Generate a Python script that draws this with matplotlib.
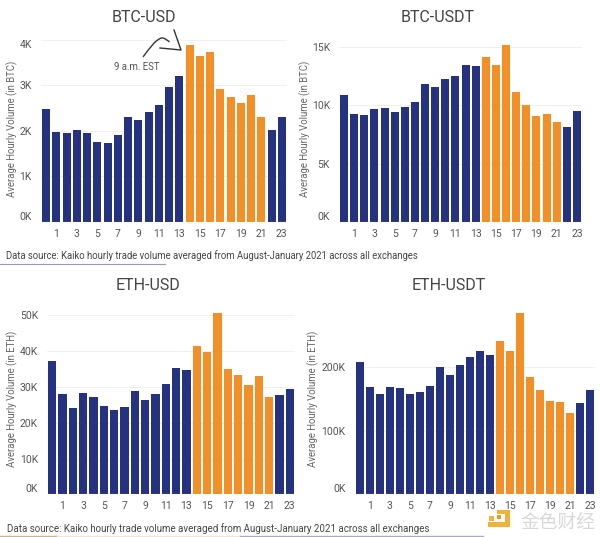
import matplotlib
matplotlib.use("Agg")
import matplotlib.pyplot as plt
from matplotlib.lines import Line2D
from matplotlib.patches import PathPatch, Rectangle, Polygon
from matplotlib.path import Path
from matplotlib.transforms import Affine2D

W, H = 600, 537
plt.rcParams['font.family'] = ['Roboto', 'Noto Sans CJK SC', 'DejaVu Sans']

hours = list(range(24))
tick_hours = list(range(1, 24, 2))
highlight = list(range(14, 22))

btc_usd = [2482, 1970, 1950, 2015, 1950, 1752, 1737, 1912, 2292, 2240, 2409, 2570,
           2970, 3197, 3890, 3628, 3730, 2920, 2745, 2606, 2781, 2307, 2015, 2307]
btc_usdt = [10920, 9240, 9150, 9700, 9780, 9410, 9840, 10300, 11860, 11550, 12290, 12550,
            13430, 13370, 14170, 13430, 15200, 11120, 10040, 9100, 9300, 8550, 8130, 9500]
eth_usd = [37200, 27900, 24100, 28200, 27300, 24700, 23500, 24400, 28900, 26350, 28000, 30900,
           35200, 34800, 41300, 39800, 50600, 35000, 33400, 30400, 33000, 27100, 27600, 29300]
eth_usdt = [208400, 169000, 158000, 169000, 167000, 158000, 161700, 170000, 201000, 188400, 203700, 217000,
            225000, 219000, 241500, 225000, 285000, 184000, 164000, 147500, 146000, 128600, 143800, 164000]

btc_usd_ticks = [0, 1000, 2000, 3000, 4000]
btc_usdt_ticks = [0, 5000, 10000, 15000]
eth_usd_ticks = [0, 10000, 20000, 30000, 40000, 50000]
eth_usdt_ticks = [0, 100000, 200000]

source = "Data source: Kaiko hourly trade volume averaged from August-January 2021 across all exchanges"

NAVY = "#25327f"
ORANGE = "#f28f27"
TXT = "#555555"

fig = plt.figure(figsize=(W / 100, H / 100), dpi=100, facecolor="white")
px = Affine2D().scale(1, -1).translate(0, H)  # image-style pixel coords


def panel(left, right, top, bottom, ymax, values, ticks, ylabel, title, title_x, title_y,
          ylab_x, ylab_y, clamp_top):
    ax = fig.add_axes([left / W, 1 - bottom / H, (right - left) / W, (bottom - top) / H])
    colors = [ORANGE if h in highlight else NAVY for h in hours]
    ax.bar(hours, values, width=0.78, color=colors, zorder=3)
    ax.set_xlim(-0.5, 23.5)
    ax.set_ylim(0, ymax)
    ax.set_xticks(tick_hours)
    ax.set_xticklabels([str(t) for t in tick_hours], fontsize=7.5, color=TXT)
    ax.set_yticks(ticks)
    labels = ax.set_yticklabels([f"{t // 1000}K" for t in ticks], fontsize=7.5, color=TXT)
    labels[0].set_va("bottom")
    if clamp_top:
        labels[-1].set_va("top")
    ax.tick_params(axis="x", length=0, pad=5)
    ax.tick_params(axis="y", length=0, pad=6.5)
    ax.grid(axis="y", color="#f0f0f0", lw=0.7, zorder=0)
    for s in ax.spines.values():
        s.set_visible(False)
    ax.axhline(0, color="#d9d9e6", lw=0.8, zorder=4)
    fig.text(ylab_x / W, 1 - ylab_y / H, ylabel, rotation=90, ha="center", va="center",
             fontsize=6.9, color="#666666")
    fig.text(title_x / W, 1 - title_y / H, title, ha="center", va="center", fontsize=11.5, color="#444444")
    return ax


panel(41, 287, 24, 222, 4340, btc_usd, btc_usd_ticks, "Average Hourly Volume (in BTC)", "BTC-USD", 143.5, 17.5, 12, 129, True)
panel(339, 582, 32, 222, 16290, btc_usdt, btc_usdt_ticks, "Average Hourly Volume (in BTC)", "BTC-USDT", 438, 17.5, 305, 129, False)
panel(47, 295, 306, 494.3, 52600, eth_usd, eth_usd_ticks, "Average Hourly Volume (in ETH)", "ETH-USD", 148, 285, 12.5, 399, False)
panel(354.7, 595.3, 305, 494.3, 298100, eth_usdt, eth_usdt_ticks, "Average Hourly Volume (in ETH)", "ETH-USDT", 449, 285, 313, 399, False)

# hand-drawn annotation (pixel positions on the canvas)
curve = Path([(143, 57), (149, 49), (155, 40), (161.5, 38), (164, 37.5), (167, 40), (169.5, 42)],
             [Path.MOVETO, Path.CURVE4, Path.CURVE4, Path.CURVE4, Path.CURVE4, Path.CURVE4, Path.CURVE4])
fig.add_artist(PathPatch(curve, fc="none", ec="#333333", lw=1.0, transform=px, zorder=6))
fig.add_artist(Line2D([160, 181, 174], [48, 50, 30], color="#333333", lw=1.0,
                      transform=px, zorder=6))
fig.text(137 / W, 1 - 67 / H, "9 a.m. EST", ha="center", va="center", fontsize=6.9, color="#555555")

# source notes and their rules
fig.text(6 / W, 1 - 255.5 / H, source, ha="left", va="center", fontsize=6.86, color="#444444")
fig.text(7 / W, 1 - 528.5 / H, source, ha="left", va="center", fontsize=7.02, color="#444444")
fig.add_artist(Line2D([0, 165], [263.5, 263.5], color="#9a9ab5", lw=0.8, transform=px))
fig.add_artist(Line2D([0, 57], [536, 536], color="#c9b48c", lw=1.0, transform=px))
fig.add_artist(Line2D([57, 240], [536, 536], color="#f3e6d0", lw=1.0, transform=px))
fig.add_artist(Line2D([240, 483], [536, 536], color="#a9a9c4", lw=1.0, transform=px))

# watermark
GOLD = "#f0b33a"
fig.add_artist(Polygon([(497, 510), (510, 510), (510, 527), (488, 527), (488, 522), (505, 522), (505, 514), (497, 514)],
                       closed=True, fc=GOLD, ec="none", transform=px, zorder=6))
fig.add_artist(Rectangle((489, 516), 5, 5, fc=GOLD, ec="none", transform=px, zorder=6))
fig.add_artist(Rectangle((497, 515), 4, 4, fc="#e59a2a", ec="none", transform=px, zorder=6))
fig.text(558 / W, 1 - 522 / H, "金色财经", ha="center", va="center", fontsize=13.5,
         family=['Noto Sans CJK SC', 'DejaVu Sans'], color="#d8d8d8", zorder=6)

fig.savefig("out.png", dpi=100, facecolor="white")
